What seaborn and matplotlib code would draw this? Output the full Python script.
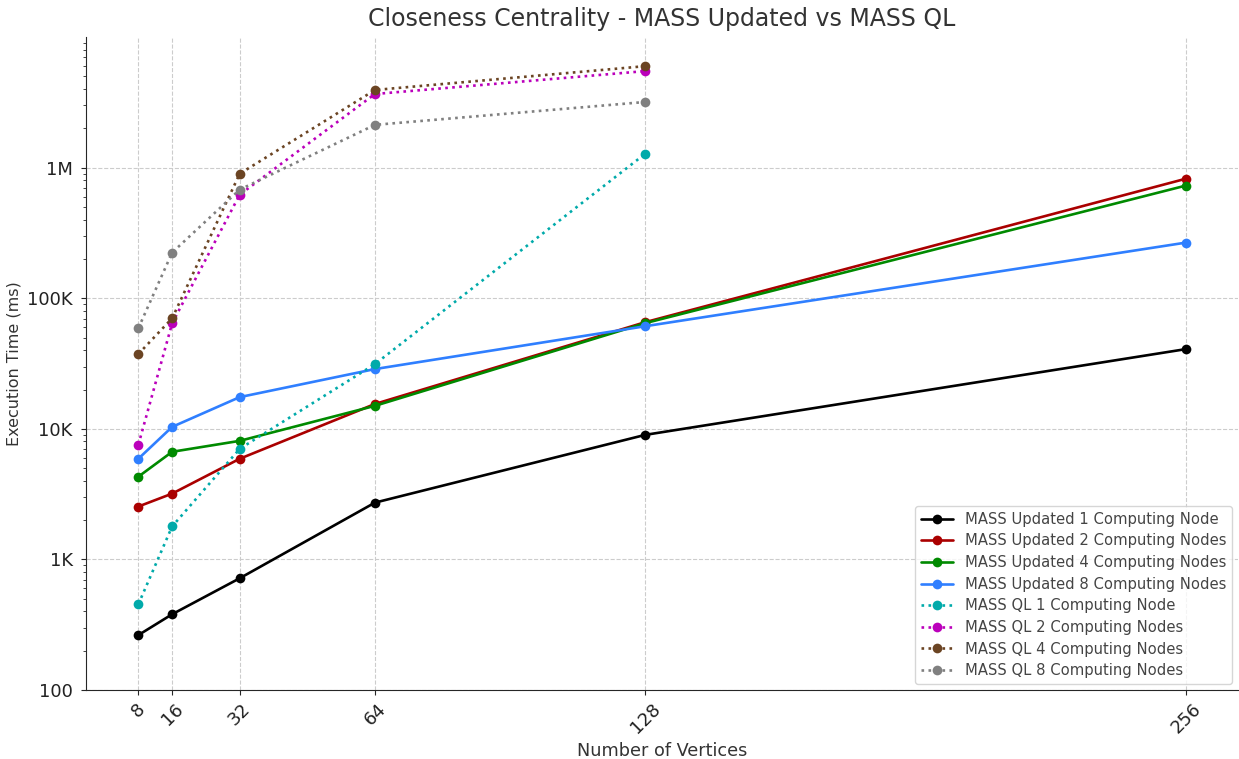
import matplotlib
matplotlib.use("Agg")
import matplotlib.pyplot as plt
import matplotlib.ticker as mticker
import seaborn as sns
import pandas as pd

vertices = [8, 16, 32, 64, 128, 256]
vertices_ql = [8, 16, 32, 64, 128]

# execution time (ms)
upd_1 = [263, 380, 717, 2720, 8990, 40800]
upd_2 = [2540, 3190, 5900, 15500, 65600, 824000]
upd_4 = [4300, 6670, 8090, 15000, 64500, 730000]
upd_8 = [5900, 10350, 17500, 28700, 61100, 267000]
ql_1 = [453, 1790, 7030, 31300, 1280000]
ql_2 = [7550, 64400, 622000, 3670000, 5500000]
ql_4 = [37400, 70300, 900000, 3940000, 6000000]
ql_8 = [59000, 224000, 680000, 2130000, 3190000]

sns.set_style("ticks")
plt.rcParams['font.family'] = ['DejaVu Sans']

fig = plt.figure(figsize=(12.39, 7.59), dpi=100)
ax = fig.add_axes([0.0694, 0.091, 0.93, 0.86])

series = [
    ("MASS Updated 1 Computing Node", vertices, upd_1, "black", "-"),
    ("MASS Updated 2 Computing Nodes", vertices, upd_2, "#aa0000", "-"),
    ("MASS Updated 4 Computing Nodes", vertices, upd_4, "#008a00", "-"),
    ("MASS Updated 8 Computing Nodes", vertices, upd_8, "#2f7fff", "-"),
    ("MASS QL 1 Computing Node", vertices_ql, ql_1, "#00aaaa", ":"),
    ("MASS QL 2 Computing Nodes", vertices_ql, ql_2, "#bb00bb", ":"),
    ("MASS QL 4 Computing Nodes", vertices_ql, ql_4, "#6b4423", ":"),
    ("MASS QL 8 Computing Nodes", vertices_ql, ql_8, "#808080", ":"),
]

for name, xs, ys, col, ls in series:
    df = pd.DataFrame({'x': xs, 'y': ys})
    sns.lineplot(data=df, x='x', y='y', ax=ax, color=col, linestyle=ls,
                 marker='o', markersize=7, markeredgewidth=0, linewidth=1.9,
                 label=name)

ax.set_yscale('log')
ax.set_ylim(100, 1e7)
ax.set_xlim(-4.4, 268.4)
ax.set_xticks(vertices)
ax.set_xticklabels([str(v) for v in vertices], rotation=45, fontsize=13, color='#222222')

def fmt(v, pos):
    if v >= 1e6:
        return f"{int(v / 1e6)}M"
    if v >= 1e3:
        return f"{int(v / 1e3)}K"
    return f"{int(v)}"

ax.yaxis.set_major_locator(mticker.FixedLocator([100, 1e3, 1e4, 1e5, 1e6]))
ax.yaxis.set_major_formatter(mticker.FuncFormatter(fmt))
ax.tick_params(axis='y', labelsize=13, labelcolor='#222222', pad=6)
ax.grid(True, which='major', linestyle='--', color='#cccccc', linewidth=0.8)

ax.set_title("Closeness Centrality - MASS Updated vs MASS QL", fontsize=17, color='#333333', pad=8)
ax.set_xlabel("Number of Vertices", fontsize=12.7, color='#333333')
ax.set_ylabel("Execution Time (ms)", fontsize=11.5, color='#333333', labelpad=4)

sns.despine(ax=ax)
leg = ax.legend(loc='lower right', fontsize=10.6, frameon=True, handlelength=2.2,
                labelspacing=0.45, borderaxespad=0.4)
for t in leg.get_texts():
    t.set_color('#444444')

fig.savefig("out.png", dpi=100)
